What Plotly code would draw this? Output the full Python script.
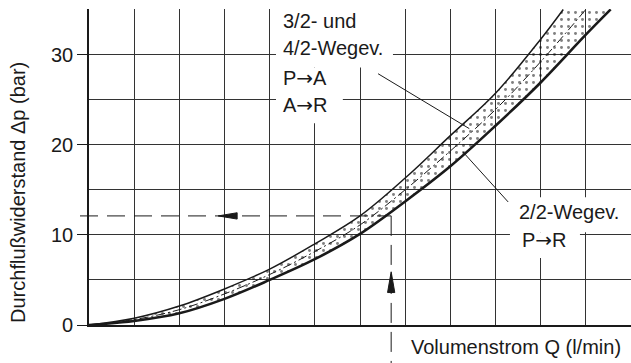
import plotly.graph_objects as go

# Durchflusswiderstand curves (x in grid units of the unlabelled Q axis, y in bar)
q_lower = [0, 1, 2, 3, 4, 5, 6, 7, 8, 9, 10, 11, 11.55]
dp_lower = [0, 0.45, 1.3, 2.9, 5.0, 7.3, 10.1, 13.7, 17.6, 22.1, 26.9, 32.2, 35]

q_upper = [0, 1, 2, 3, 4, 5, 6, 7, 8, 9, 10, 10.5]
dp_upper = [0, 0.75, 2.1, 4.0, 6.2, 9.0, 12.1, 16.3, 21.0, 25.7, 31.7, 35]

q_mid = [0, 1, 2, 3, 4, 5, 6, 7, 8, 9, 10, 11]
dp_mid = [0, 0.6, 1.7, 3.45, 5.6, 8.15, 11.1, 15.0, 19.3, 23.9, 29.2, 35]

# reading example
q_read = 6.69
dp_read = 12.1

y_ticks = [0, 10, 20, 30]
x_max = 12
y_max = 35.05

FONT = "Liberation Sans, Arial, sans-serif"
INK = "#1a1a1a"
GRID = "#333333"
ARROW = "<span style='font-family:DejaVu Sans'>→</span>"

fig = go.Figure()

fig.add_trace(go.Scatter(
    x=q_lower, y=dp_lower, mode="lines", line=dict(color=INK, width=2.6, shape="spline"),
    hoverinfo="skip"))
fig.add_trace(go.Scatter(
    x=q_upper, y=dp_upper, mode="lines", line=dict(color=INK, width=1.5, shape="spline"),
    fill="tonexty", fillcolor="rgba(0,0,0,0)",
    fillpattern=dict(shape=".", fgcolor="#000000", bgcolor="rgba(0,0,0,0)", size=7, solidity=0.14),
    hoverinfo="skip"))
fig.add_trace(go.Scatter(
    x=q_mid, y=dp_mid, mode="lines",
    line=dict(color=INK, width=1, shape="spline", dash="9px,3px,2px,3px"),
    hoverinfo="skip"))

# arrowheads on the reading lines
fig.add_trace(go.Scatter(
    x=[2.86, 3.28, 3.28, 2.86], y=[dp_read, dp_read + 0.35, dp_read - 0.35, dp_read],
    fill="toself", fillcolor=INK, mode="lines", line=dict(color=INK, width=1), hoverinfo="skip"))
fig.add_trace(go.Scatter(
    x=[q_read, q_read + 0.08, q_read - 0.08, q_read], y=[5.9, 3.6, 3.6, 5.9],
    fill="toself", fillcolor=INK, mode="lines", line=dict(color=INK, width=1), hoverinfo="skip"))

shapes = []
# dashed reading lines (paper refs so they may run outside the plot)
shapes.append(dict(type="line", xref="paper", yref="paper",
                   x0=-9 / 542, x1=q_read / x_max, y0=dp_read / y_max, y1=dp_read / y_max,
                   line=dict(color=INK, width=1, dash="18px,9px")))
shapes.append(dict(type="line", xref="paper", yref="paper",
                   x0=q_read / x_max, x1=q_read / x_max, y0=dp_read / y_max, y1=-0.125,
                   line=dict(color=INK, width=1, dash="20px,9px")))

# white label backgrounds
for x0, x1, y0, y1 in [(4.14, 6.73, 28.57, 36), (4.14, 5.62, 22.37, 28.57),
                       (9.32, 12.2, 10.3, 14.17), (9.32, 10.87, 7.42, 10.3)]:
    shapes.append(dict(type="rect", xref="x", yref="y", x0=x0, x1=x1, y0=y0, y1=y1,
                       fillcolor="white", line=dict(width=0), layer="above"))

# leader lines
shapes.append(dict(type="line", xref="x", yref="y", x0=6.40, y0=27.87, x1=8.42, y1=21.78,
                   line=dict(color=INK, width=1), layer="above"))
shapes.append(dict(type="line", xref="x", yref="y", x0=8.28, y0=19.19, x1=9.28, y1=13.65,
                   line=dict(color=INK, width=1), layer="above"))

annotations = []
for txt, x, y in [("3/2- und", 4.24, 33.67), ("4/2-Wegev.", 4.24, 30.68),
                  ("P" + ARROW + "A", 4.24, 27.35), ("A" + ARROW + "R", 4.24, 24.36),
                  ("2/2-Wegev.", 9.47, 12.55), ("P" + ARROW + "R", 9.54, 9.41)]:
    annotations.append(dict(text=txt, x=x, y=y, xref="x", yref="y", xanchor="left",
                            yanchor="middle", showarrow=False,
                            font=dict(family=FONT, size=20, color=INK)))

annotations.append(dict(text="Volumenstrom Q (l/min)", x=0.590, y=-0.0696, xref="paper",
                        yref="paper", xanchor="left", yanchor="middle", showarrow=False,
                        font=dict(family=FONT, size=20, color=INK)))
annotations.append(dict(text="Durchflußwiderstand Δp (bar)", x=-0.131, y=0.421,
                        xref="paper", yref="paper", xanchor="center", yanchor="middle",
                        textangle=-90, showarrow=False,
                        font=dict(family=FONT, size=20, color=INK)))

fig.update_layout(
    width=631, height=363,
    margin=dict(l=89, r=0, t=9, b=38),
    paper_bgcolor="white", plot_bgcolor="white",
    showlegend=False,
    shapes=shapes, annotations=annotations,
    xaxis=dict(range=[0, x_max], dtick=1, tick0=0, showticklabels=False, ticks="",
               showgrid=True, gridcolor=GRID, gridwidth=1, zeroline=False,
               showline=True, linecolor=INK, linewidth=1.6),
    yaxis=dict(range=[0, y_max], tickvals=y_ticks, ticks="outside", ticklen=10,
               tickcolor=INK, tickwidth=1,
               tickfont=dict(family=FONT, size=20, color=INK),
               showgrid=True, gridcolor=GRID, gridwidth=1, zeroline=False,
               showline=True, linecolor=INK, linewidth=1.6,
               minor=dict(tick0=0, dtick=5, showgrid=True, gridcolor=GRID, gridwidth=1,
                          ticks="")),
)

fig.write_html("out.html", config={"displayModeBar": False},
               post_script="document.body.style.margin='0';")
